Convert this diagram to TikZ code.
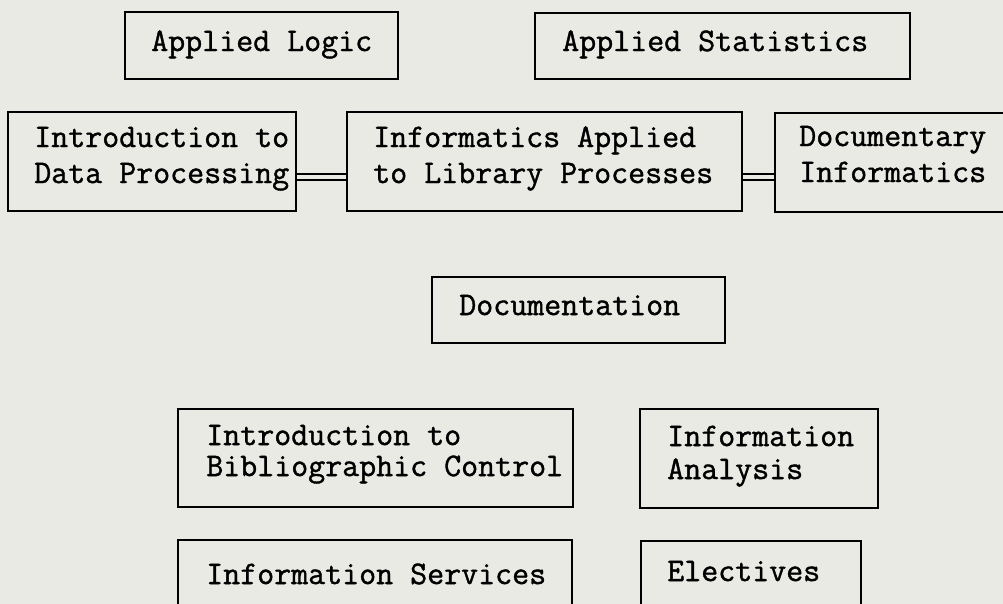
\documentclass[tikz,border=0pt]{standalone}
\usepackage{fontspec}
\newfontfamily\typew{Latin Modern Mono}[FakeBold=1.2]
\definecolor{paper}{RGB}{234,234,228}
\begin{document}
\begin{tikzpicture}[x=1pt,y=1pt,
  box/.style={draw=black, line width=1.9pt, rectangle, inner sep=0pt},
  txt/.style={anchor=base west, inner sep=0pt, align=left, text=black,
    font=\typew\fontsize{33}{29}\selectfont},
  link/.style={draw=black, line width=2pt, double=paper, double distance=3.5pt}]
\fill[paper] (0,0) rectangle (1003,-604);
\useasboundingbox (0,0) rectangle (1003,-604);
\clip (0,0) rectangle (1003,-604);

% top row
\node[box, minimum width=273pt, minimum height=67pt] (logic) at (261.5,-45.5) {};
\node[box, minimum width=375pt, minimum height=66pt] (stats) at (722.5,-46) {};

% informatics row
\node[box, minimum width=288pt, minimum height=99pt] (dataproc) at (152,-161.5) {};
\node[box, minimum width=395pt, minimum height=99pt] (libproc) at (544.5,-161.5) {};
\node[box, minimum width=285pt, minimum height=99pt] (docinf) at (917.5,-162.5) {};

% links between the informatics courses
\draw[link] ([yshift=-15.5pt]dataproc.east) -- ([yshift=-15.5pt]libproc.west);
\draw[link] ([yshift=-15.5pt]libproc.east) -- ([yshift=-15.5pt]libproc.east -| docinf.west);

% documentation
\node[box, minimum width=293pt, minimum height=66pt] (docu) at (578.5,-310) {};

% lower rows
\node[box, minimum width=395pt, minimum height=98pt] (biblio) at (375.5,-458) {};
\node[box, minimum width=238pt, minimum height=99pt] (analysis) at (759,-458.5) {};
\node[box, minimum width=394pt, minimum height=76pt] (services) at (375,-578) {};
\node[box, minimum width=220pt, minimum height=72pt] (electives) at (751,-577) {};

% course titles, set flush left inside their boxes (shifts give the last baseline)
\node[txt] (logic-t) at ([xshift=27pt,yshift=-40pt]logic.north west) {Applied Logic};
\node[txt] (stats-t) at ([xshift=28pt,yshift=-39pt]stats.north west) {Applied Statistics};
\node[txt] (dataproc-t) at ([xshift=27pt,yshift=-72pt]dataproc.north west) {Introduction to\\[7pt]Data Processing};
\node[txt] (libproc-t) at ([xshift=27pt,yshift=-72pt]libproc.north west) {Informatics Applied\\[7pt]to Library Processes};
\node[txt] (docinf-t) at ([xshift=25pt,yshift=-70pt]docinf.north west) {Documentary\\[7pt]Informatics};
\node[txt] (docu-t) at ([xshift=28pt,yshift=-39pt]docu.north west) {Documentation};
\node[txt] (biblio-t) at ([xshift=29pt,yshift=-68pt]biblio.north west) {Introduction to\\[2pt]Bibliographic Control};
\node[txt] (analysis-t) at ([xshift=28pt,yshift=-71pt]analysis.north west) {Information\\[4pt]Analysis};
\node[txt] (services-t) at ([xshift=29pt,yshift=-45pt]services.north west) {Information Services};
\node[txt] (electives-t) at ([xshift=27pt,yshift=-41pt]electives.north west) {Electives};
\end{tikzpicture}
\end{document}
